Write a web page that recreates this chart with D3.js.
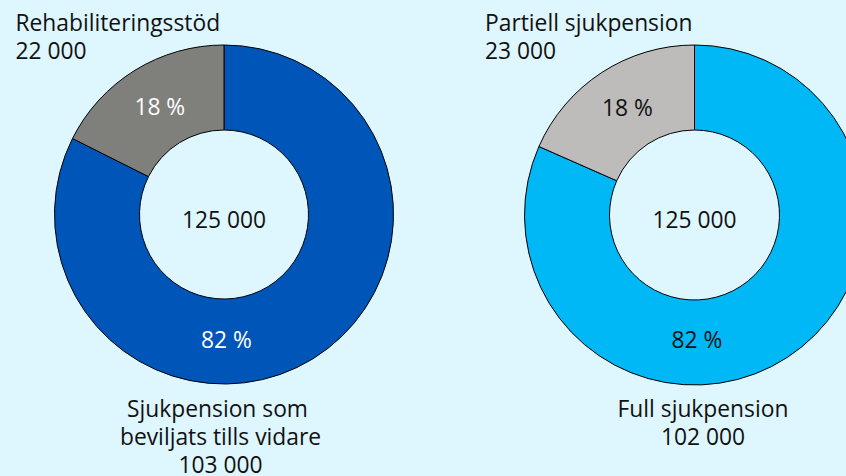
<!DOCTYPE html>
<html>
<head>
<meta charset="utf-8">
<script src="https://cdn.jsdelivr.net/npm/d3@7"></script>
<style>
html,body{margin:0;padding:0;background:#def6fe;}
svg{display:block;}
text{font-family:"Open Sans", Carlito, Calibri, sans-serif; white-space:pre;}
</style>
</head>
<body>
<svg id="chart" width="846" height="476"></svg>
<script>
// Data
const leftCategories = ["Sjukpension som beviljats tills vidare", "Rehabiliteringsstöd"];
const leftValues = [103000, 22000];
const leftPercentLabels = ["82 %", "18 %"];
const leftTotal = "125 000";
const leftCategoryLabels = [["Sjukpension som ", "beviljats tills vidare", "103 000"], ["Rehabiliteringsstöd", "22 000"]];

const rightCategories = ["Full sjukpension", "Partiell sjukpension"];
const rightValues = [102000, 23000];
const rightPercentLabels = ["82 %", "18 %"];
const rightTotal = "125 000";
const rightCategoryLabels = [["Full sjukpension", "102 000"], ["Partiell sjukpension", "23 000"]];

const leftColors = ["#0056b8", "#7f7f7c"];
const rightColors = ["#00b8f6", "#bdbcbb"];
const leftPctColors = ["#ffffff", "#ffffff"];
const rightPctColors = ["#111111", "#111111"];

const svg = d3.select("#chart");
const fontSize = 22.8;
const lineH = 28.4;

function donut(cfg) {
  const g = svg.append("g").attr("transform", `translate(${cfg.cx},${cfg.cy})`);
  const pie = d3.pie().sort(null).value(d => d)(cfg.values);
  const arc = d3.arc().innerRadius(cfg.r0).outerRadius(cfg.r1);
  g.selectAll("path.slice").data(pie).join("path")
    .attr("class", "slice")
    .attr("d", arc)
    .attr("fill", (d, i) => cfg.colors[i])
    .attr("stroke", "#000")
    .attr("stroke-width", 1);
  const mid = (cfg.r0 + cfg.r1) / 2;
  const labelArc = d3.arc().innerRadius(mid).outerRadius(mid);
  const bottomArc = d3.arc().innerRadius(125).outerRadius(125);
  g.selectAll("text.pct").data(pie).join("text")
    .attr("class", "pct")
    .attr("transform", (d, i) => {
      let c;
      if (i === 0) {
        // big slice: label at the bottom of the ring
        c = bottomArc.centroid({startAngle: Math.PI, endAngle: Math.PI});
        c[0] += 2.5;
      } else {
        c = labelArc.centroid(d);
        c[0] += 2.5;
      }
      return `translate(${c[0]},${c[1]})`;
    })
    .attr("text-anchor", "middle")
    .attr("dy", "0.36em")
    .attr("font-size", fontSize)
    .attr("fill", (d, i) => cfg.pctColors[i])
    .text((d, i) => cfg.pctLabels[i]);
  g.append("text")
    .attr("text-anchor", "middle")
    .attr("dy", "0.36em")
    .attr("y", 5)
    .attr("font-size", fontSize)
    .attr("fill", "#111")
    .text(cfg.total);
  // top-left category label (small slice)
  const tl = svg.append("text").attr("font-size", fontSize).attr("fill", "#111");
  cfg.catLabels[1].forEach((s, i) => {
    tl.append("tspan").attr("x", cfg.topX).attr("y", 30.7 + i * lineH).text(s);
  });
  // bottom label (big slice)
  const bl = svg.append("text").attr("font-size", fontSize).attr("fill", "#111").attr("text-anchor", "middle");
  cfg.catLabels[0].forEach((s, i) => {
    bl.append("tspan").attr("x", cfg.botX).attr("y", 416.6 + i * lineH).text(s);
  });
}

donut({cx: 224, cy: 214.5, r0: 84.5, r1: 169.5, values: leftValues, colors: leftColors,
  pctColors: leftPctColors, pctLabels: leftPercentLabels, total: leftTotal,
  catLabels: leftCategoryLabels, topX: 15.5, botX: 220.5});
donut({cx: 694.5, cy: 215, r0: 85, r1: 170, values: rightValues, colors: rightColors,
  pctColors: rightPctColors, pctLabels: rightPercentLabels, total: rightTotal,
  catLabels: rightCategoryLabels, topX: 485, botX: 703});
</script>
</body>
</html>
